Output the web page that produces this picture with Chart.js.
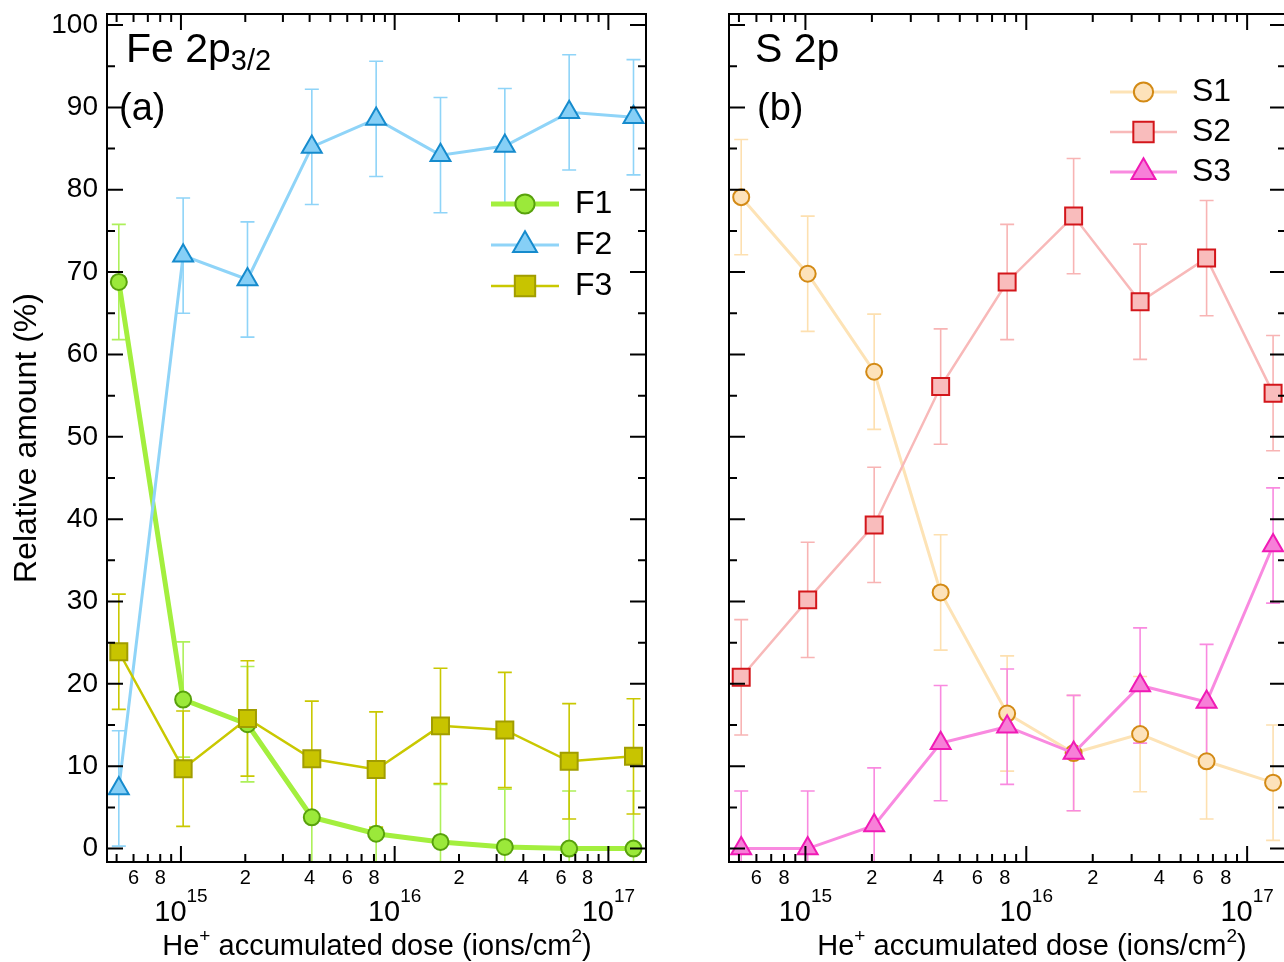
<!DOCTYPE html>
<html>
<head>
<meta charset="utf-8">
<script src="https://cdn.jsdelivr.net/npm/chart.js@4.4.1/dist/chart.umd.min.js"></script>
<style>
  html, body { margin: 0; padding: 0; background: #fff; overflow: hidden; }
  #wrap { position: relative; width: 1284px; height: 962px; overflow: hidden; }
  canvas { position: absolute; top: 0; }
  #feChart { left: 0; }
  #sChart { left: 660px; }
</style>
</head>
<body>
<div id="wrap">
  <canvas id="feChart" width="660" height="962"></canvas>
  <canvas id="sChart" width="640" height="962"></canvas>
</div>
<script>
// He+ dose per step (ions/cm2)
const dose = [5.12e14, 1.024e15, 2.048e15, 4.096e15, 8.192e15, 1.6384e16, 3.2768e16, 6.5536e16, 1.31072e17];

// Fe 2p3/2 components (%)
const feF1 = [68.8, 18.1, 15.1, 3.8, 1.8, 0.8, 0.2, 0.0, 0.0];
const feF2 = [7.3, 72.0, 69.1, 85.2, 88.6, 84.2, 85.3, 89.4, 88.8];
const feF3 = [23.9, 9.7, 15.8, 10.9, 9.6, 14.9, 14.4, 10.6, 11.2];
const errF1 = [7, 7, 7, 7, 7, 7, 7, 7, 7];
const errF2 = [7, 7, 7, 7, 7, 7, 7, 7, 7];
const errF3 = [7, 7, 7, 7, 7, 7, 7, 7, 7];

// S 2p components (%)
const sS1 = [79.1, 69.8, 57.9, 31.1, 16.4, 11.6, 13.9, 10.6, 8.0];
const sS2 = [20.8, 30.2, 39.3, 56.1, 68.8, 76.8, 66.4, 71.7, 55.3];
const sS3 = [0.0, 0.0, 2.8, 12.8, 14.8, 11.6, 19.8, 17.8, 36.8];
const errS1 = [7, 7, 7, 7, 7, 7, 7, 7, 7];
const errS2 = [7, 7, 7, 7, 7, 7, 7, 7, 7];
const errS3 = [7, 7, 7, 7, 7, 7, 7, 7, 7];

// axis ticks
const yTicks = [0, 10, 20, 30, 40, 50, 60, 70, 80, 90, 100];
const yMinorTicks = [5, 15, 25, 35, 45, 55, 65, 75, 85, 95];
const decadeExps = [15, 16, 17];
const minorDigits = [2, 4, 6, 8];

const FONT = "'Liberation Sans', Arial, Helvetica, sans-serif";
const X_MIN = Math.pow(10, 14.654);
const X_MAX = Math.pow(10, 17.176);
const Y_MIN = -1.63;
const Y_MAX = 101.34;

const xTickValues = [];
for (let e = 14; e <= 17; e++) {
  for (let k = 1; k <= 9; k++) {
    const v = k * Math.pow(10, e);
    if (v >= X_MIN && v <= X_MAX) xTickValues.push(v);
  }
}

function mantissa(v) {
  return Math.round(v / Math.pow(10, Math.floor(Math.log10(v) + 1e-9)));
}

function points(ys) {
  return dose.map((d, i) => ({ x: d, y: ys[i] }));
}

function drawMarker(ctx, style, x, y, r) {
  ctx.beginPath();
  if (style === 'circle') {
    ctx.arc(x, y, r, 0, Math.PI * 2);
  } else if (style === 'triangle') {
    for (let i = 0; i < 3; i++) {
      const a = i * 2 * Math.PI / 3;
      const px = x + Math.sin(a) * r, py = y - Math.cos(a) * r;
      if (i) ctx.lineTo(px, py); else ctx.moveTo(px, py);
    }
    ctx.closePath();
  } else {
    const s = Math.SQRT1_2 * r;
    ctx.rect(x - s, y - s, 2 * s, 2 * s);
  }
  ctx.fill();
  ctx.stroke();
}

// text run with super/subscripts: [text, size, dy]
function drawRich(ctx, parts, x, y, align) {
  let total = 0;
  parts.forEach(p => {
    ctx.font = p[1] + 'px ' + FONT;
    p.w = ctx.measureText(p[0]).width;
    total += p.w;
  });
  let cx = align === 'center' ? x - total / 2 : x;
  parts.forEach(p => {
    ctx.font = p[1] + 'px ' + FONT;
    ctx.fillText(p[0], cx, y + p[2]);
    cx += p.w;
  });
}

const errorBarPlugin = {
  id: 'errorBars',
  beforeDatasetsDraw(chart) {
    const { ctx, chartArea: a, scales: { x, y } } = chart;
    ctx.save();
    ctx.beginPath();
    ctx.rect(a.left, a.top, a.right - a.left, a.bottom - a.top);
    ctx.clip();
    chart.data.datasets.forEach(ds => {
      ctx.strokeStyle = ds.errorColor;
      ctx.lineWidth = 1.6;
      ds.data.forEach((pt, i) => {
        const px = x.getPixelForValue(pt.x);
        const top = y.getPixelForValue(pt.y + ds.errors[i]);
        const bot = y.getPixelForValue(pt.y - ds.errors[i]);
        ctx.beginPath();
        ctx.moveTo(px, top); ctx.lineTo(px, bot);
        ctx.moveTo(px - 7, top); ctx.lineTo(px + 7, top);
        ctx.moveTo(px - 7, bot); ctx.lineTo(px + 7, bot);
        ctx.stroke();
      });
    });
    ctx.restore();
  }
};

// box frame with inward ticks on all four sides
const framePlugin = {
  id: 'frame',
  afterDatasetsDraw(chart) {
    const { ctx, chartArea: a, scales: { x, y } } = chart;
    ctx.save();
    ctx.strokeStyle = '#000';
    ctx.lineWidth = 2;
    ctx.strokeRect(a.left, a.top, a.right - a.left, a.bottom - a.top);
    ctx.beginPath();
    xTickValues.forEach(v => {
      const px = x.getPixelForValue(v);
      const len = mantissa(v) === 1 ? 16 : 8;
      ctx.moveTo(px, a.bottom); ctx.lineTo(px, a.bottom - len);
      ctx.moveTo(px, a.top); ctx.lineTo(px, a.top + len);
    });
    yTicks.forEach(v => {
      const py = y.getPixelForValue(v);
      ctx.moveTo(a.left, py); ctx.lineTo(a.left + 16, py);
      ctx.moveTo(a.right, py); ctx.lineTo(a.right - 16, py);
    });
    yMinorTicks.forEach(v => {
      const py = y.getPixelForValue(v);
      ctx.moveTo(a.left, py); ctx.lineTo(a.left + 8, py);
      ctx.moveTo(a.right, py); ctx.lineTo(a.right - 8, py);
    });
    ctx.stroke();
    ctx.restore();
  }
};

// decade labels, titles, panel name and legend
const panelPlugin = {
  id: 'panel',
  afterDraw(chart, args, opts) {
    const { ctx, chartArea: a, scales: { x } } = chart;
    ctx.save();
    ctx.fillStyle = '#000';
    ctx.textBaseline = 'alphabetic';

    decadeExps.forEach(e => {
      const px = x.getPixelForValue(Math.pow(10, e));
      drawRich(ctx, [['10', 29, 0], [String(e), 19, -19]], px, 921, 'center');
    });

    drawRich(ctx, [['He', 29, 0], ['+', 19, -13], [' accumulated dose (ions/cm', 29, 0], ['2', 19, -13], [')', 29, 0]],
      opts.titleX, 955, 'center');

    if (opts.yTitle) {
      ctx.save();
      ctx.translate(opts.yTitle.x, opts.yTitle.y);
      ctx.rotate(-Math.PI / 2);
      ctx.font = '32px ' + FONT;
      ctx.textAlign = 'center';
      ctx.textBaseline = 'middle';
      ctx.fillText(opts.yTitle.text, 0, 0);
      ctx.restore();
    }

    drawRich(ctx, opts.name, a.left + opts.nameDx, 62, 'left');
    ctx.font = '38px ' + FONT;
    ctx.fillText(opts.tag, a.left + opts.tagDx, 120);

    const lg = opts.legend;
    chart.data.datasets.forEach((ds, i) => {
      const ry = lg.rows[i];
      ctx.strokeStyle = ds.borderColor;
      ctx.lineWidth = ds.borderWidth;
      ctx.beginPath();
      ctx.moveTo(lg.x0, ry); ctx.lineTo(lg.x1, ry);
      ctx.stroke();
      ctx.fillStyle = ds.pointBackgroundColor;
      ctx.strokeStyle = ds.pointBorderColor;
      ctx.lineWidth = ds.pointBorderWidth;
      drawMarker(ctx, ds.pointStyle, (lg.x0 + lg.x1) / 2, ry, ds.pointRadius * 1.2);
      ctx.fillStyle = '#000';
      ctx.font = '32px ' + FONT;
      ctx.textBaseline = 'middle';
      ctx.fillText(ds.label, lg.textX, ry);
      ctx.textBaseline = 'alphabetic';
    });
    ctx.restore();
  }
};

function series(label, ys, errs, style) {
  return Object.assign({
    label: label,
    data: points(ys),
    errors: errs,
    tension: 0,
    pointBorderWidth: 2,
    pointHoverRadius: 0
  }, style);
}

function makeChart(canvasId, datasets, cfg) {
  return new Chart(document.getElementById(canvasId), {
    type: 'line',
    data: { datasets: datasets },
    options: {
      responsive: false,
      animation: false,
      events: [],
      layout: { padding: cfg.padding },
      plugins: { legend: { display: false }, tooltip: { enabled: false }, panel: cfg.panel },
      scales: {
        x: {
          type: 'logarithmic',
          min: X_MIN,
          max: X_MAX,
          grid: { display: false, drawTicks: false },
          border: { display: false },
          afterBuildTicks: s => { s.ticks = xTickValues.map(v => ({ value: v })); },
          afterFit: s => { s.height = 100; s.paddingLeft = 0; s.paddingRight = 0; },
          ticks: {
            autoSkip: false, maxRotation: 0, minRotation: 0, padding: 4, color: '#000',
            font: { family: FONT, size: 20 },
            callback: v => (minorDigits.includes(mantissa(v)) ? String(mantissa(v)) : '')
          }
        },
        y: {
          min: Y_MIN,
          max: Y_MAX,
          grid: { display: false, drawTicks: false },
          border: { display: false },
          afterBuildTicks: s => { s.ticks = yTicks.map(v => ({ value: v })); },
          afterFit: s => { s.width = cfg.yAxisWidth; s.paddingTop = 0; s.paddingBottom = 0; },
          ticks: {
            display: cfg.showYLabels, padding: 9, color: '#000',
            font: { family: FONT, size: 28 },
            callback: v => String(v)
          }
        }
      }
    },
    plugins: [errorBarPlugin, framePlugin, panelPlugin]
  });
}

makeChart('feChart', [
  series('F1', feF1, errF1, {
    borderColor: '#a3ef3e', borderWidth: 5, order: 3,
    pointStyle: 'circle', pointRadius: 8,
    pointBackgroundColor: '#9be93a', pointBorderColor: '#58a10c', errorColor: '#adf05a'
  }),
  series('F2', feF2, errF2, {
    borderColor: '#8fd4f8', borderWidth: 3, order: 2,
    pointStyle: 'triangle', pointRadius: 11.5,
    pointBackgroundColor: '#86cff6', pointBorderColor: '#168bcd', errorColor: '#8fd4f8'
  }),
  series('F3', feF3, errF3, {
    borderColor: '#c9c800', borderWidth: 2.5, order: 1,
    pointStyle: 'rect', pointRadius: 12,
    pointBackgroundColor: '#c8c400', pointBorderColor: '#a19d00', errorColor: '#c9c800'
  })
], {
  padding: { left: 0, right: 14, top: 14, bottom: 0 },
  yAxisWidth: 107,
  showYLabels: true,
  panel: {
    titleX: 377,
    yTitle: { text: 'Relative amount (%)', x: 27, y: 438 },
    name: [['Fe 2p', 41, 0], ['3/2', 29, 8]],
    nameDx: 19,
    tag: '(a)',
    tagDx: 12,
    legend: { x0: 491, x1: 559, textX: 575, rows: [204, 245, 286] }
  }
});

makeChart('sChart', [
  series('S1', sS1, errS1, {
    borderColor: '#fde3b6', borderWidth: 3, order: 3,
    pointStyle: 'circle', pointRadius: 8,
    pointBackgroundColor: '#fde2ba', pointBorderColor: '#d38a15', errorColor: '#fde0b0'
  }),
  series('S2', sS2, errS2, {
    borderColor: '#f8b9b9', borderWidth: 2.5, order: 2,
    pointStyle: 'rect', pointRadius: 12,
    pointBackgroundColor: '#f9bcbc', pointBorderColor: '#d3161b', errorColor: '#f8b4b4'
  }),
  series('S3', sS3, errS3, {
    borderColor: '#f98ae0', borderWidth: 3, order: 1,
    pointStyle: 'triangle', pointRadius: 11.5,
    pointBackgroundColor: '#f77fd8', pointBorderColor: '#f01ab5', errorColor: '#f98ae0'
  })
], {
  padding: { left: 0, right: 11, top: 14, bottom: 0 },
  yAxisWidth: 69,
  showYLabels: false,
  panel: {
    titleX: 372,
    yTitle: null,
    name: [['S 2p', 41, 0]],
    nameDx: 26,
    tag: '(b)',
    tagDx: 28,
    legend: { x0: 450, x1: 517, textX: 532, rows: [92, 132, 172] }
  }
});
</script>
</body>
</html>
